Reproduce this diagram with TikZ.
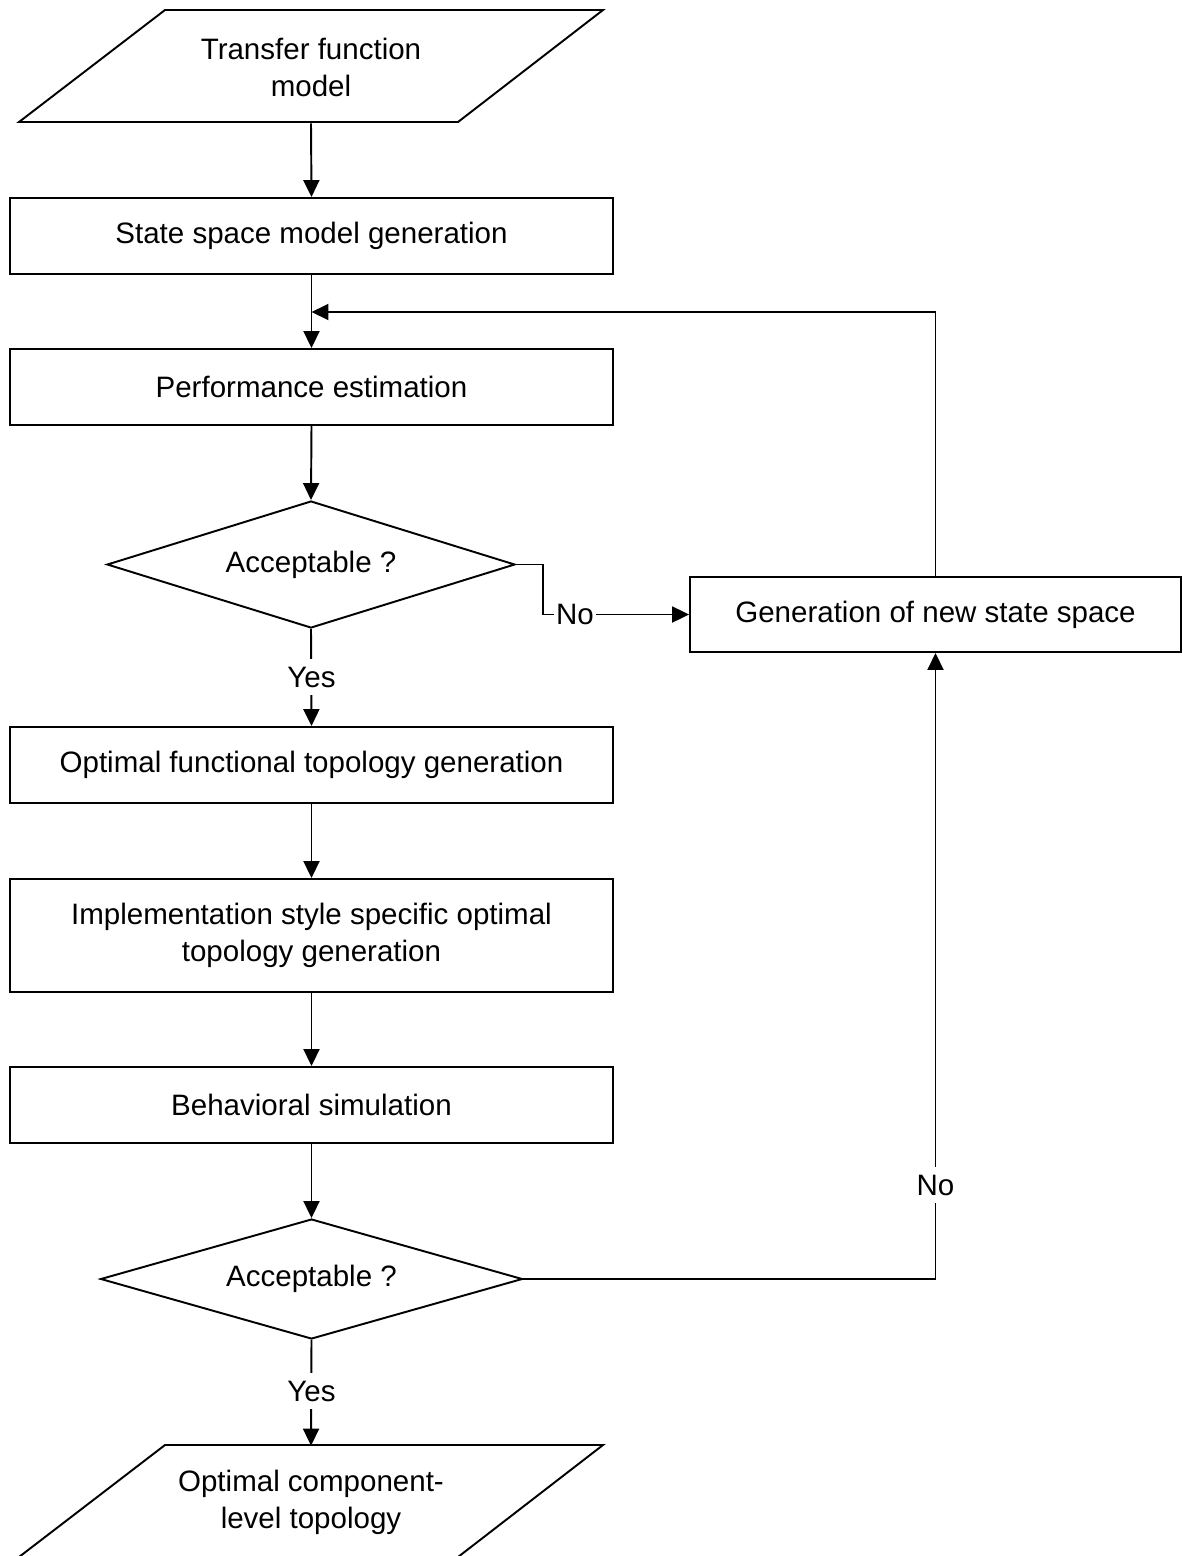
\documentclass[tikz,border=0pt]{standalone}
\usepackage{fontspec}
\setmainfont{Liberation Sans}
\usetikzlibrary{shapes.geometric,arrows.meta}
\begin{document}
\begin{tikzpicture}[x=0.02cm,y=-0.02cm,
  every node/.style={font=\fontsize{16.8}{21}\selectfont},
  ln/.style={line width=1.1pt,line join=miter},
  box/.style={draw,ln,rectangle,minimum width=12.06cm,minimum height=1.52cm,inner sep=0pt,align=center},
  dec/.style={draw,ln,diamond,aspect=3.3,inner sep=0pt,align=center},
  io/.style={rectangle,inner sep=0pt,minimum height=2.24cm,align=center},
  arr/.style={ln,-{Triangle[length=0.34cm,width=0.32cm]}},
  lab/.style={fill=white,inner xsep=1.5pt,inner ysep=4.5pt}]
\useasboundingbox (0,0) rectangle (1183,1556);

% input parallelogram
\draw[ln] (165,10) -- (603,10) -- (458,122) -- (19,122) -- cycle;
\node[io] (tf) at (311,67) {Transfer function\\model};

\node[box] (ss) at (311.5,236) {State space model generation};
\node[box] (pe) at (311.5,387) {Performance estimation};
\node[dec,minimum width=8.16cm,minimum height=2.54cm] (d1) at (311,564.5) {Acceptable ?};
\node[box,minimum width=9.82cm,minimum height=1.5cm] (gn) at (935.5,614.5) {Generation of new state space};
\node[box] (ofg) at (311.5,765) {Optimal functional topology generation};
\node[box,minimum height=2.26cm] (isg) at (311.5,935.5) {Implementation style specific optimal\\topology generation};
\node[box] (bs) at (311.5,1105) {Behavioral simulation};
\node[dec,minimum width=8.44cm,minimum height=2.4cm] (d2) at (311.5,1279) {Acceptable ?};

% output parallelogram
\draw[ln] (165,1445) -- (603,1445) -- (458,1557) -- (19,1557) -- cycle;
\node[io] (out) at (311,1502) {Optimal component-\\level topology};

% connectors
\draw[arr] (tf.south) -- (ss.north);
\draw[arr] (ss.south) -- (pe.north);
\coordinate (join) at (311.5,312);
\draw[arr] (gn.north) |- (join);
\draw[arr] (pe.south) -- (d1.north);

\coordinate (k1) at (543,564.5);
\node[fill=white,inner sep=1pt] (no1) at (575,614.5) {No};
\draw[ln] (d1.east) -- (k1) |- (no1.west);
\draw[arr] (no1.east) -- (gn.west);

\draw[arr] (d1.south) -- (ofg.north);
\node[lab] (yes1) at (311.5,677) {Yes};

\draw[arr] (ofg.south) -- (isg.north);
\draw[arr] (isg.south) -- (bs.north);
\draw[arr] (bs.south) -- (d2.north);

\coordinate (k2) at (gn.south |- d2.east);
\draw[arr] (d2.east) -- (k2) -- (gn.south);
\node[lab] (no2) at (935.5,1185) {No};

\draw[arr] (d2.south) -- (out.north);
\node[lab] (yes2) at (311.5,1391) {Yes};
\end{tikzpicture}
\end{document}
